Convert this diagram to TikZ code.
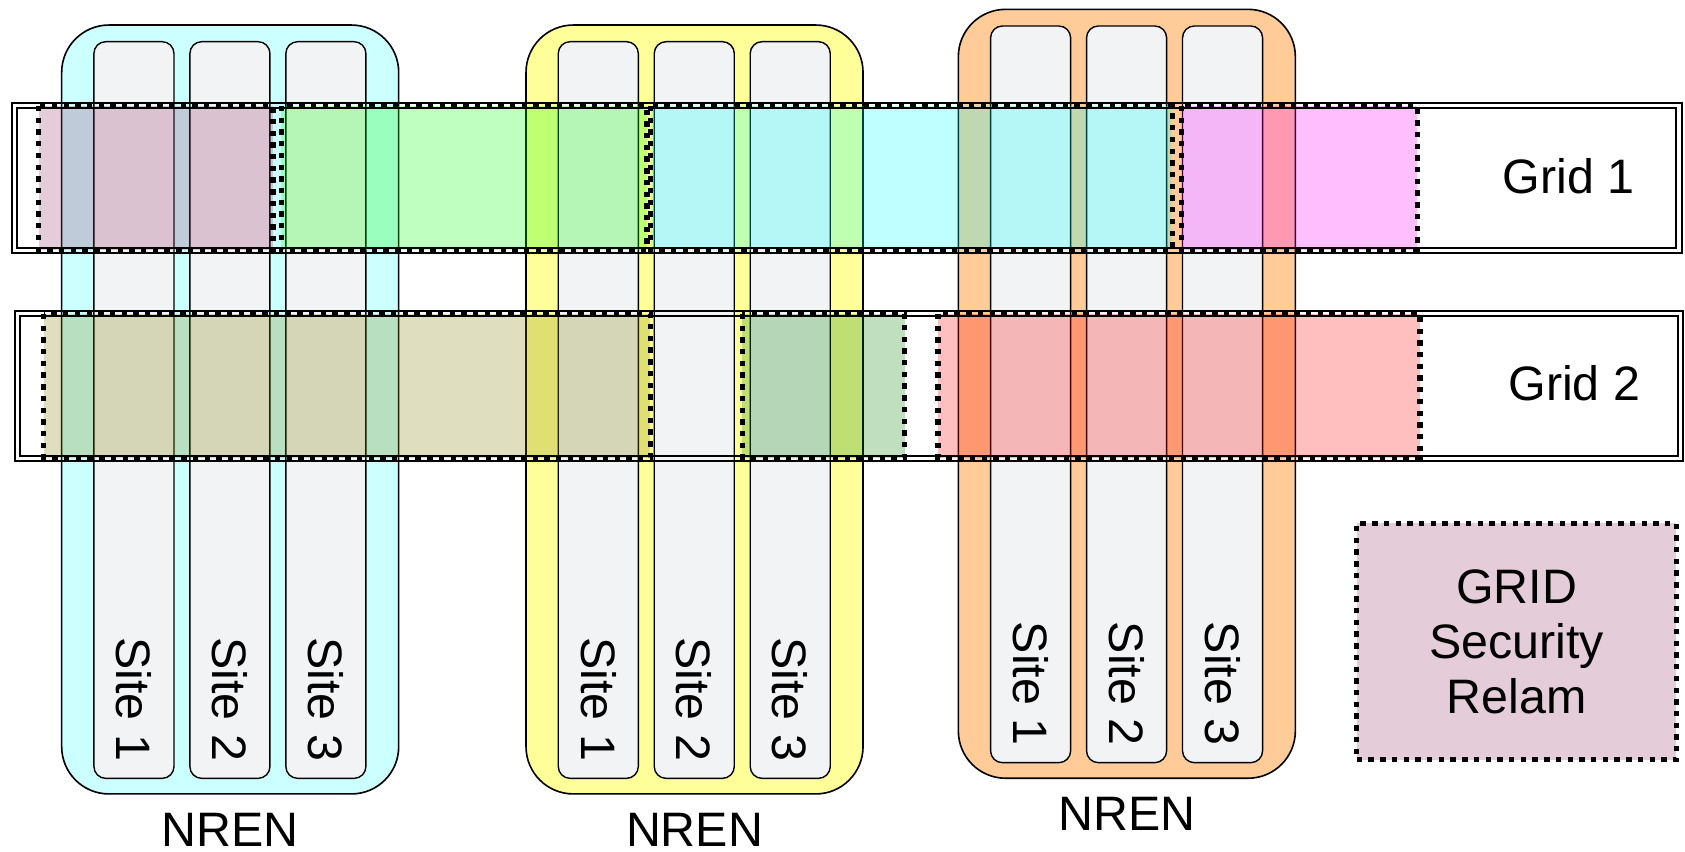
\documentclass[tikz,border=0pt]{standalone}
\usepackage{fontspec}
\setmainfont{Liberation Sans}
\definecolor{nrencyan}{HTML}{CCFFFF}
\definecolor{nrenyellow}{HTML}{FFFF99}
\definecolor{nrenorange}{HTML}{FFCC99}
\definecolor{sitegray}{HTML}{F2F3F5}
\definecolor{realmmauve}{HTML}{993366}
\definecolor{realmgreen}{HTML}{00FF00}
\definecolor{realmcyan}{HTML}{00FFFF}
\definecolor{realmmagenta}{HTML}{FF00FF}
\definecolor{realmolive}{HTML}{808000}
\definecolor{realmdkgreen}{HTML}{008000}
\definecolor{realmred}{HTML}{FF0000}
\tikzset{
  nrenbox/.style={draw=black, line width=0.75pt, rounded corners=22pt},
  sitebox/.style={draw=black, line width=0.65pt, fill=sitegray, rounded corners=5.5pt},
  gridline/.style={draw=black, line width=0.9pt},
  realm/.style={draw=black, line width=2.5pt, dash pattern=on 2.5pt off 2.95pt, fill opacity=0.25},
  lbl/.style={font=\fontsize{22.5}{25.6}\selectfont, inner sep=0pt},
}
\begin{document}
\begin{tikzpicture}[x=0.5pt,y=-0.5pt]
\useasboundingbox (0,0) rectangle (1568,792);
% NRENs with sites
\foreach \xl/\yt/\fc/\nid in {57.4/23.3/nrencyan/1, 489.5/23.3/nrenyellow/2, 891.8/8.7/nrenorange/3}{
  \draw[nrenbox, fill=\fc] (\xl,\yt) rectangle ++(313.6,715.5);
  \foreach \xo/\sk in {30/1, 119.3/2, 208.6/3}{
    \draw[sitebox] (\xl+\xo,\yt+15.5) rectangle ++(74.5,685.5);
    \node[lbl, rotate=-90] (site\nid\sk) at (\xl+\xo+37.25,\yt+627.5) {Site \sk};
  }
  \node[lbl] (nren\nid) at (\xl+156.8,\yt+749) {NREN};
}
% Grid 1 realms
\draw[realm, fill=realmmauve]   (36.1,98.6)  rectangle (254.2,232.4);
\draw[realm, fill=realmgreen]   (261.7,98.6) rectangle (602,232.4);
\draw[realm, fill=realmcyan]    (605.5,98.6) rectangle (1091,232.4);
\draw[realm, fill=realmmagenta] (1099.5,98.6) rectangle (1318.8,232.4);
% Grid 2 realms
\draw[realm, fill=realmolive]   (40.7,292.1)  rectangle (605.2,425.8);
\draw[realm, fill=realmdkgreen] (690.7,292.1) rectangle (841.8,425.8);
\draw[realm, fill=realmred]     (872.7,292.1) rectangle (1321.5,425.8);
% Grid frames (double lines)
\draw[gridline] (11,96) rectangle (1565,235);
\draw[gridline] (16,100.5) rectangle (1560,230.5);
\draw[gridline] (13.7,289.3) rectangle (1566,428.7);
\draw[gridline] (18.5,294) rectangle (1561.3,424);
\node[lbl] (grid1) at (1459.8,164.4) {Grid 1};
\node[lbl] (grid2) at (1465,356.7) {Grid 2};
% Legend
\node[realm, fill=realmmauve, text opacity=1, lbl, align=center,
      minimum width=148.75pt, minimum height=110pt] (legend) at (1411.3,597) {GRID\\Security\\Relam};
\end{tikzpicture}
\end{document}
